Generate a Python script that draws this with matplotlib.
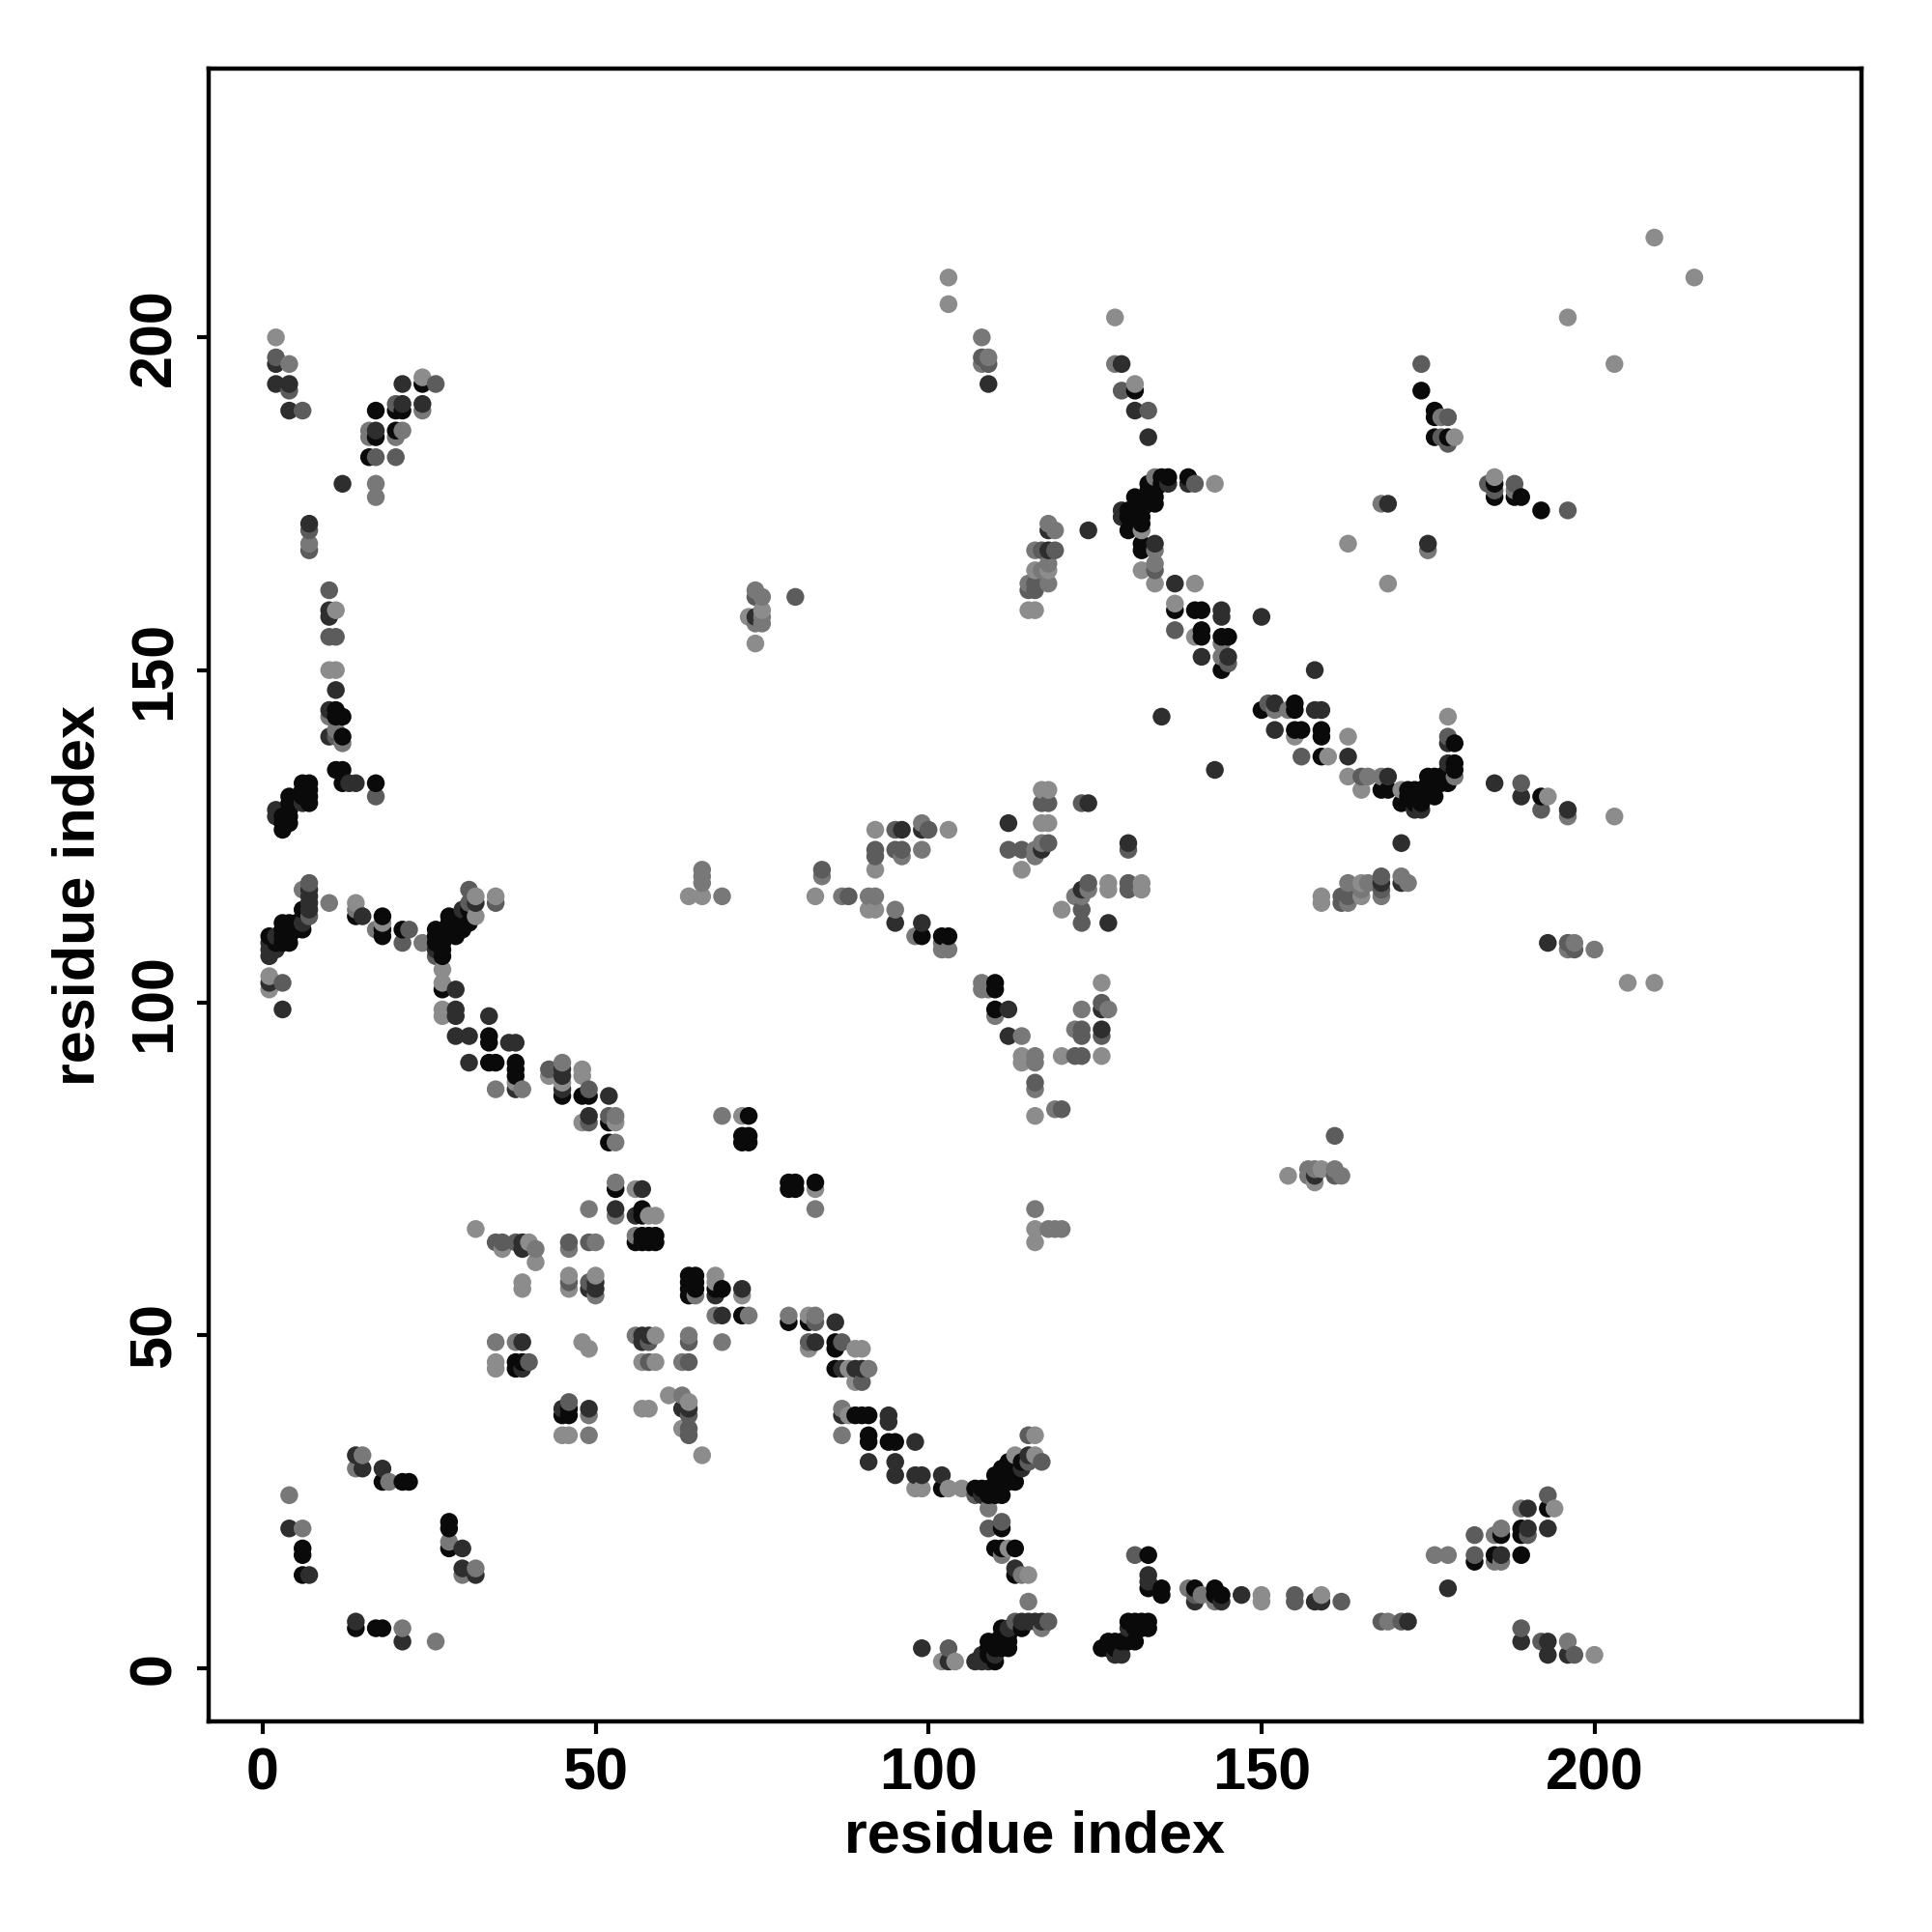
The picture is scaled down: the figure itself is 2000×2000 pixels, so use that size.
import matplotlib
matplotlib.use("Agg")
import matplotlib.pyplot as plt

# residue contacts (i, j), i < j; drawn mirrored across the diagonal. One list per grey shade.
contacts_black = [
(6,18),(6,17),(6,14),(18,28),(21,28),(22,28),(53,72),(57,69),(57,68),(57,65),(57,64),(58,64),(59,65),
(39,46),(46,39),(38,45),(45,86),(48,86),(49,86),(52,82),(73,83),(72,79),(73,79),(73,80),(72,80),
(79,73),(80,73),(72,79),(83,73),(59,64),(57,65),(56,64),(58,65),(59,65),(57,69),(52,79),
(86,49),(86,48),(89,38),(90,38),(91,38),(91,35),(91,34),(94,34),(95,34),(102,27),(109,26),(110,29),(110,26),
(111,26),(111,28),(111,30),(112,31),(113,30),(114,31),(111,21),(111,18),(113,18),(113,14),(109,3),(109,4),
(110,1),(110,4),(111,4),(112,4),(112,3),(111,6),(111,5),(112,5),(126,3),(127,4),(128,4),(130,4),(131,4),(130,7),(131,7),
(132,7),(133,7),(133,17),(133,12),(135,12),(140,12),(144,11),(189,17),(186,20),
(12,135),(12,133),(17,133),(7,133),(6,133),(4,131),(4,130),(7,131),(6,131),(3,128),(3,127),(3,126),(4,129),(4,128),(6,132),(7,132),
(6,114),(14,113),(18,113),(18,110),(21,111),(2,109),(3,112),(3,111),(3,110),(4,112),(4,111),(4,110),(5,112),(5,111),
(26,111),(26,110),(26,109),(27,109),(27,108),(27,107),(27,102),(28,113),(28,112),(28,111),(29,111),(29,110),(29,112),(30,112),(30,113),
(34,95),(34,94),(34,91),(35,91),(38,91),(38,90),
(24,193),(20,189),(21,189),(17,189),(17,185),(20,186),(16,182),(12,143),(11,144),(11,143),(12,140),(12,135),(11,135),
(99,110),(110,103),(110,102),(110,99),(159,137),(168,132),(169,132),(172,132),(171,130),(172,131),(173,130),(175,134),
(176,131),(176,133),(176,134),(177,133),(178,135),(178,134),(179,136),(174,132),(192,131),
(131,192),(174,192),(176,189),(176,188),(176,185),(178,185),(185,178),(188,176),(189,176),(192,174),
(135,179),(136,179),(133,178),(135,178),(133,177),(134,177),(131,176),(133,175),(134,175),(132,175),(131,174),(130,174),(132,173),
(130,171),(132,172),(132,169),(132,168),(133,176),(132,174),
(137,159),(140,159),(141,159),(141,156),(141,155),(144,155),(145,155),(150,144),(155,145),(155,144),(155,141),(156,141),(159,141),(159,140),
(179,139),(179,135),(46,39),(46,38),
]
contacts_dark = [
(4,21),(7,14),(15,30),(18,30),(39,64),(39,63),(50,58),(50,57),(53,69),(57,72),(58,65),(68,56),(56,68),(69,57),(57,72),
(39,49),(38,45),(39,45),(49,57),(45,39),(45,38),(49,39),(64,39),(21,4),(14,7),
(37,94),(38,94),(29,95),(31,95),(29,99),(29,98),(38,87),(45,87),(52,86),(49,83),
(83,49),(86,52),(86,45),(87,45),(89,45),(90,45),(87,38),(94,38),(94,37),(98,34),(91,31),(95,31),(95,29),(98,29),(99,29),(102,29),
(107,27),(109,27),(113,28),(114,30),(115,32),(113,15),(103,1),(107,1),(108,1),(109,1),(108,2),(110,2),
(112,6),(114,7),(114,6),(115,7),(116,7),(128,2),(129,2),(129,4),(130,6),(133,6),(132,6),(133,14),(133,13),(140,10),(143,12),(144,10),
(147,11),(158,10),(159,10),(172,7),(178,12),(182,16),(185,17),(186,17),(189,21),(190,24),(193,24),(193,21),(189,4),(193,4),(193,2),(196,2),
(2,129),(2,128),(14,133),(1,107),(1,108),(26,108),(7,117),(7,116),(7,115),(7,114),(6,111),(15,113),(3,99),
(14,32),
(2,196),(4,193),(4,189),(21,193),(24,190),(17,186),(12,178),(7,172),(10,159),(10,158),(10,144),(10,140),(11,147),(12,143),(74,158),(21,190),
(143,135),(156,141),(169,134),(163,137),(171,124),(168,118),(171,118),(185,133),(189,131),(196,129),
(130,124),(123,117),(126,96),(126,99),(127,112),(124,130),(112,127),(117,123),(96,126),(95,112),(99,112),(102,110),(103,110),(112,99),(112,95),
(193,109),(129,196),(109,193),(131,189),(133,185),(139,179),(136,178),(129,174),(129,173),(130,173),(124,171),(118,171),(118,168),(134,169),
(141,152),(145,152),(144,150),(144,159),(144,158),(150,158),(135,143),(152,145),(152,141),(158,144),(159,144),(178,139),(169,175),(175,169),
]
contacts_mid = [
(35,64),(46,64),(49,64),(46,58),(49,58),(40,46),(46,40),(64,35),(64,38),(64,36),(56,68),(58,49),(49,58),(52,79),(52,83),(49,82),(49,87),
(31,91),(34,98),(29,102),(43,90),(79,52),(90,43),(109,21),(111,22),(113,7),(135,11),(99,3),(103,3),(155,11),(155,10),(162,10),(168,7),
(182,20),(182,17),(189,20),(190,20),(193,26),(192,4),(197,2),(118,7),(131,17),(117,31),
(1,110),(1,109),(1,103),(26,107),(3,103),(7,118),(7,113),(22,111),(21,109),(31,117),(31,115),(35,115),(32,115),
(2,193),(4,192),(6,189),(20,190),(26,193),(17,182),(20,182),(7,171),(7,168),(10,162),(10,155),(11,155),(11,140),(74,161),(80,161),
(92,123),(92,122),(112,123),(114,123),(123,114),(123,112),(124,118),(130,118),(130,123),(117,130),(118,130),(123,130),(123,92),(122,92),(123,96),(123,95),
(126,100),(126,95),(116,88),(120,84),(197,108),(196,109),(109,196),(174,196),(129,192),(133,189),(115,162),(116,162),(119,168),(134,165),
(137,163),(151,145),(163,116),(162,116),(162,115),(168,117),(168,119),(145,151),(178,184),(192,129),(156,137),(177,185),(178,140),
(135,178),(188,178),(185,176),(196,174),
]
contacts_gray = [
(4,26),(6,21),(15,32),(14,30),(19,28),(28,19),(14,30),(36,64),(38,64),(41,63),(49,69),(50,64),(53,73),(53,68),(50,56),(56,65),(46,63),
(35,49),(38,49),(38,46),(50,64),(46,38),(49,38),(49,35),(63,41),(63,39),(64,36),(64,50),
(35,87),(39,87),(45,91),(53,83),(52,79),(53,79),(69,83),(83,69),(79,53),(83,52),(82,49),(87,49),(87,39),(87,35),
(102,27),(107,26),(109,24),(111,17),(114,14),(116,7),(117,7),(117,6),(139,12),(141,11),(168,7),(169,7),(171,7),(176,17),(178,17),(189,24),
(116,69),(118,66),(119,66),(157,74),(158,75),(161,75),(161,74),(162,74),(161,80),(91,45),(196,4),
(17,131),(11,135),(6,130),(10,115),(69,116),(87,116),(88,116),(84,120),(66,120),(66,119),
(2,197),(4,196),(21,186),(20,185),(16,186),(16,185),(24,189),(17,178),(17,176),(7,169),(10,143),(12,139),(74,162),(75,161),(74,157),(75,157),
(95,126),(99,127),(100,126),(95,123),(96,123),(96,122),(92,123),(116,123),(117,124),(118,124),(124,117),(123,116),(130,117),(95,114),
(102,109),(108,103),(108,102),(110,98),(114,95),(116,91),(116,92),(116,87),(119,84),(122,96),(123,99),(127,99),(196,108),(200,108),
(108,200),(108,197),(109,197),(128,196),(133,189),(177,188),(178,188),(134,169),(134,168),(134,166),(116,168),(117,168),(119,171),(117,165),(115,163),(116,163),(118,163),
(137,156),(137,163),(140,178),(144,154),(152,144),(154,144),(165,134),(166,134),(168,134),(168,116),(166,118),(163,118),(172,118),(175,168),(189,133),(163,137),(156,137),
(122,116),(134,179),(134,168),
]
contacts_light = [
(14,32),(36,63),(40,64),(41,61),(39,58),(39,57),(46,59),(46,57),(50,59),(32,66),(56,72),(58,68),(59,68),(35,46),(35,45),(68,59),(68,53),
(45,35),(46,35),(57,39),(58,39),(61,41),(64,40),(63,36),(66,32),(59,50),(59,46),(49,48),(83,72),
(45,88),(48,90),(48,82),(53,82),(38,88),(82,53),(82,48),(88,45),(89,48),(90,48),(89,43),(88,38),
(98,27),(99,27),(103,27),(105,27),(112,18),(115,14),(115,10),(115,35),(116,35),(116,32),(102,1),(104,1),
(116,66),(116,64),(120,66),(154,74),(158,73),(159,75),(143,10),(150,11),(150,10),(159,11),(185,20),(186,21),(185,16),(186,16),(194,24),(200,2),
(27,105),(27,103),(27,99),(27,98),(1,104),(1,102),(6,117),(14,115),(14,114),(17,111),(24,109),(32,116),(35,116),(31,114),(32,113),
(66,118),(64,116),(66,116),(84,119),(83,116),
(2,200),(10,150),(11,150),(11,159),(73,158),(75,158),(74,154),
(92,126),(103,126),(92,120),(99,123),(117,132),(118,132),(117,127),(118,127),(114,120),(120,114),(127,118),(127,117),(132,118),(132,117),
(91,116),(92,116),(91,114),(92,114),(98,110),(102,108),(116,83),(114,92),(114,91),(120,92),(126,92),(126,103),
(205,103),(209,103),(103,209),(103,205),(128,203),(196,203),(209,215),(131,193),(108,196),(179,185),(185,179),(185,177),
(118,172),(116,165),(118,165),(115,159),(116,159),(132,165),(134,163),(140,163),(143,178),(137,160),(140,155),(144,152),
(163,169),(169,163),(163,140),(160,137),(155,140),(163,134),(178,143),(163,137),(165,132),(165,118),(165,116),(159,116),(159,115),(163,115),(171,119),
(193,131),(196,128),(203,128),(193,109),(171,132),(178,136),(179,134),(184,178),
]
shades = ["#0a0a0a", "#2e2e2e", "#5c5c5c", "#787878", "#8c8c8c"]
groups = [contacts_black, contacts_dark, contacts_mid, contacts_gray, contacts_light]
tick_values = [0, 50, 100, 150, 200]
axis_title = "residue index"

plt.rcParams["font.family"] = ["Liberation Sans", "DejaVu Sans"]
plt.rcParams["font.weight"] = "bold"

# first listed shade wins for a contact; drawing order follows the residue index
shade_of = {}
for group, shade in zip(groups, shades):
    for a, b in group:
        shade_of.setdefault((a, b), shade)
        shade_of.setdefault((b, a), shade)
keys = sorted(shade_of)

fig = plt.figure(figsize=(10, 10), dpi=200)
ax = fig.add_axes([216/2000, 1-1782/2000, (1927-216)/2000, (1782-71)/2000])
ax.scatter([k[0] for k in keys], [k[1] for k in keys],
           c=[shade_of[k] for k in keys], s=44, linewidths=0, zorder=3)
ax.set_xlim(-8.1, 240.1)
ax.set_ylim(-8, 240.4)
ax.set_xticks(tick_values)
ax.set_yticks(tick_values)
ax.tick_params(axis="both", length=4.5, width=1.5, labelsize=22, pad=5)
for lab in ax.get_yticklabels():
    lab.set_rotation(90)
    lab.set_va("center")
for s in ax.spines.values():
    s.set_linewidth(1.6)
ax.set_xlabel(axis_title, fontsize=22, fontweight="bold", labelpad=3)
ax.set_ylabel(axis_title, fontsize=22, fontweight="bold", labelpad=8)
fig.savefig("out.png", dpi=200, facecolor="white")
